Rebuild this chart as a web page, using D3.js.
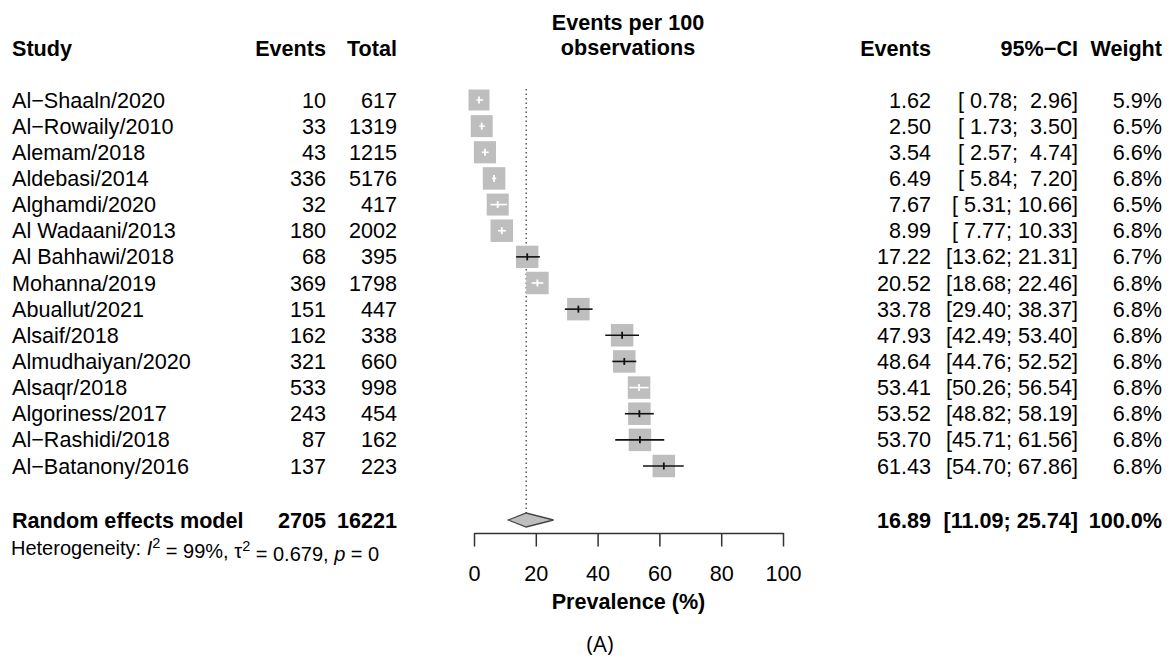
<!DOCTYPE html>
<html><head><meta charset="utf-8">
<script src="https://cdn.jsdelivr.net/npm/d3@7"></script>
<style>
html,body{margin:0;padding:0;background:#fff;}
svg text{font-family:"Liberation Sans",Arial,sans-serif;fill:#000;white-space:pre;}
</style></head>
<body><svg id="c" width="1170" height="660"></svg>
<script>
const studies = ["Al\u2212Shaaln/2020","Al\u2212Rowaily/2010","Alemam/2018","Aldebasi/2014","Alghamdi/2020","Al Wadaani/2013","Al Bahhawi/2018","Mohanna/2019","Abuallut/2021","Alsaif/2018","Almudhaiyan/2020","Alsaqr/2018","Algoriness/2017","Al\u2212Rashidi/2018","Al\u2212Batanony/2016"];
const events = [10,33,43,336,32,180,68,369,151,162,321,533,243,87,137];
const totals = [617,1319,1215,5176,417,2002,395,1798,447,338,660,998,454,162,223];
const estimates = [1.62,2.50,3.54,6.49,7.67,8.99,17.22,20.52,33.78,47.93,48.64,53.41,53.52,53.70,61.43];
const lower = [0.78,1.73,2.57,5.84,5.31,7.77,13.62,18.68,29.40,42.49,44.76,50.26,48.82,45.71,54.70];
const upper = [2.96,3.50,4.74,7.20,10.66,10.33,21.31,22.46,38.37,53.40,52.52,56.54,58.19,61.56,67.86];
const weights = [5.9,6.5,6.6,6.8,6.5,6.8,6.7,6.8,6.8,6.8,6.8,6.8,6.8,6.8,6.8];
const pooled = {label:"Random effects model", events:2705, total:16221, est:16.89, lo:11.09, hi:25.74, weight:100.0};
const ticks = [0,20,40,60,80,100];

const svg = d3.select("#c");
const x = d3.scaleLinear().domain([0,100]).range([474,783]);
const y = d3.scaleLinear().domain([0,14]).range([100,466]);
const sz = d3.scaleSqrt().domain([0,6.8]).range([0,22.5]);
const FS = 21.6;

function txt(xp, yp, s, anchor, bold, size){
  return svg.append("text").attr("x",xp).attr("y",yp).attr("dy","0.35em")
    .attr("text-anchor",anchor||"start").attr("font-size",size||FS)
    .attr("font-weight",bold?"bold":"normal").text(s);
}
const pad = v => { const s = v.toFixed(2); return s.length<5 ? " ".repeat(5-s.length)+s : s; };
const ciStr = (l,h) => "[" + pad(l) + "; " + pad(h) + "]";

// headers
txt(12,48,"Study","start",true);
txt(326,48,"Events","end",true);
txt(397,48,"Total","end",true);
txt(628,22,"Events per 100","middle",true);
txt(628,47,"observations","middle",true);
txt(931,48,"Events","end",true);
txt(1078,48,"95%\u2212CI","end",true);
txt(1162,48,"Weight","end",true);

// reference dotted line
svg.append("line").attr("x1",x(pooled.est)).attr("x2",x(pooled.est))
  .attr("y1",89).attr("y2",513).attr("stroke","#333").attr("stroke-width",1.2)
  .attr("stroke-dasharray","1.5,3");

// rows
studies.forEach((s,i)=>{
  const yy = y(i);
  txt(12,yy,s,"start");
  txt(326,yy,String(events[i]),"end");
  txt(397,yy,String(totals[i]),"end");
  txt(931,yy,estimates[i].toFixed(2),"end");
  txt(1078,yy,ciStr(lower[i],upper[i]),"end");
  txt(1162,yy,weights[i].toFixed(1)+"%","end");
  const w = sz(weights[i]);
  svg.append("rect").attr("x",x(estimates[i])-w/2).attr("y",yy-w/2)
    .attr("width",w).attr("height",w).attr("fill","#bebebe");
  const inside = (x(upper[i])-x(lower[i])) < w;
  const col = inside ? "#fff" : "#111";
  svg.append("line").attr("x1",x(lower[i])).attr("x2",x(upper[i]))
    .attr("y1",yy).attr("y2",yy).attr("stroke",col).attr("stroke-width",1.6);
  svg.append("line").attr("x1",x(estimates[i])).attr("x2",x(estimates[i]))
    .attr("y1",yy-3.5).attr("y2",yy+3.5).attr("stroke",col).attr("stroke-width",1.8);
});

// pooled row
const py = 520;
txt(12,py,pooled.label,"start",true);
txt(326,py,String(pooled.events),"end",true);
txt(397,py,String(pooled.total),"end",true);
txt(931,py,pooled.est.toFixed(2),"end",true);
txt(1078,py,ciStr(pooled.lo,pooled.hi),"end",true);
txt(1162,py,pooled.weight.toFixed(1)+"%","end",true);
svg.append("path")
  .attr("d",`M${x(pooled.lo)},${py} L${x(pooled.est)},${py-7} L${x(pooled.hi)},${py} L${x(pooled.est)},${py+7} Z`)
  .attr("fill","#bebebe").attr("stroke","#444").attr("stroke-width",1.3);

// heterogeneity
const het = svg.append("text").attr("x",11).attr("y",548).attr("dy","0.35em").attr("font-size",20);
het.append("tspan").text("Heterogeneity: ");
het.append("tspan").attr("font-style","italic").text("I");
het.append("tspan").attr("dy","-0.5em").attr("font-size",14.5).text("2");
het.append("tspan").attr("dy","0.5em").text(" = 99%, \u03c4");
het.append("tspan").attr("dy","-0.5em").attr("font-size",14.5).text("2");
het.append("tspan").attr("dy","0.5em").text(" = 0.679, ");
het.append("tspan").attr("font-style","italic").text("p");
het.append("tspan").text(" = 0");

// axis
const ax = svg.append("g").attr("transform","translate(0,533)")
  .call(d3.axisBottom(x).tickValues(ticks).tickSize(13.5).tickSizeOuter(0).tickFormat(d3.format("d")));
ax.select(".domain").attr("stroke","#333").attr("stroke-width",1.5);
ax.selectAll(".tick line").attr("stroke","#333").attr("stroke-width",1.5);
ax.selectAll(".tick text").attr("y",40).attr("dy","0.35em").attr("font-size",FS)
  .attr("font-family","'Liberation Sans',Arial,sans-serif").attr("fill","#000");
txt(x(50),601,"Prevalence (%)","middle",true);

svg.append("text").attr("x",600).attr("y",644).attr("dy","0.35em").attr("text-anchor","middle")
  .attr("font-size",22).style("font-family","'Open Sans',sans-serif").text("(A)");
</script></body></html>
